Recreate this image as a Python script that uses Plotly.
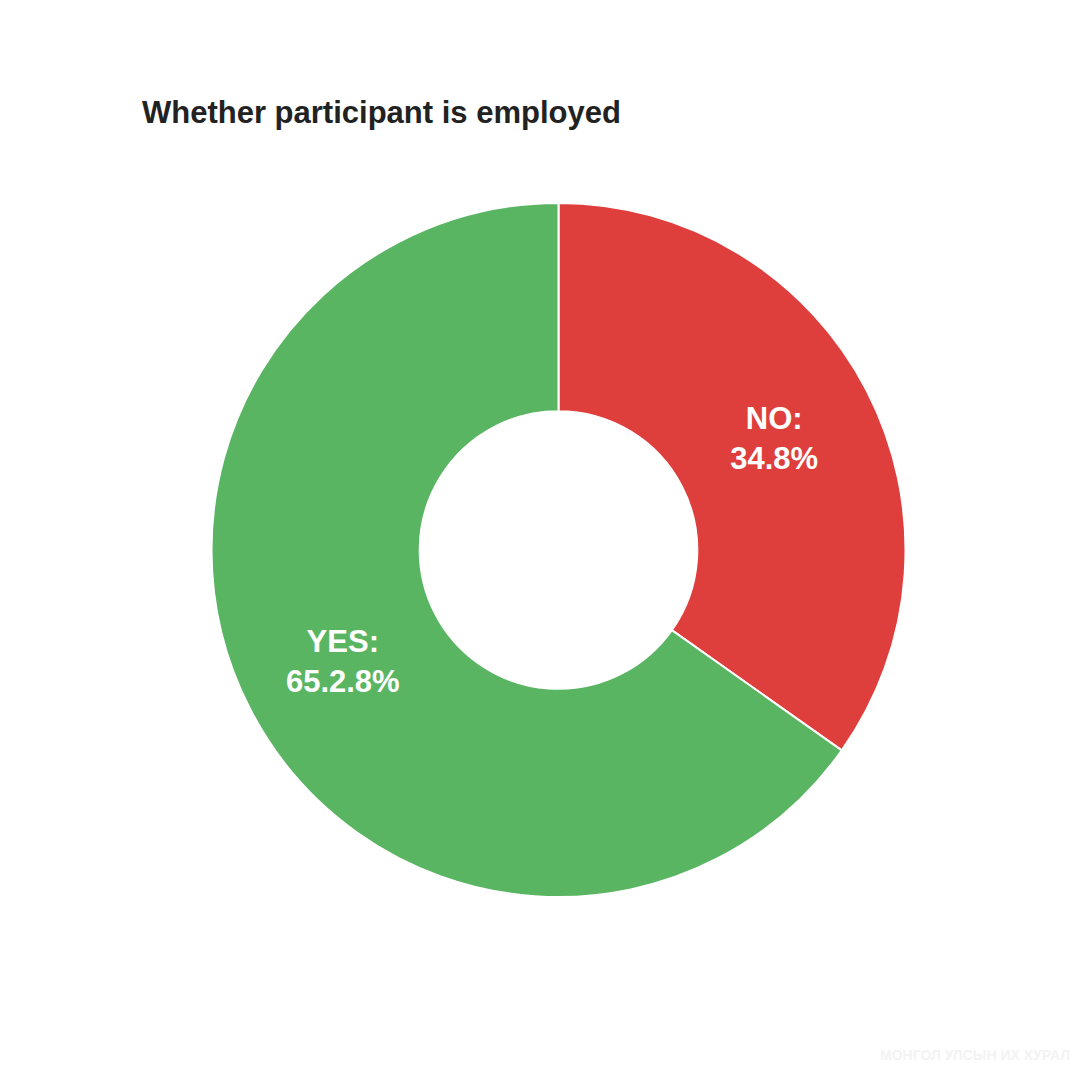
import plotly.graph_objects as go

categories = ["NO", "YES"]
values = [34.8, 65.2]
label_texts = ["NO:<br>34.8%", "YES:<br>65.2.8%"]
colors = ["#de3e3c", "#5ab562"]

W, H = 1090, 1077
OFF = 8  # page body margin
cx, cy, R = 558.5 - OFF, 550 - OFF, 347

fig = go.Figure(go.Pie(
    labels=categories,
    values=values,
    text=label_texts,
    texttemplate="%{text}",
    textposition="inside",
    insidetextorientation="horizontal",
    textfont=dict(family="Liberation Sans, Arial, sans-serif", size=31, color="white", weight="bold"),
    marker=dict(colors=colors, line=dict(color="white", width=2)),
    hole=0.40,
    sort=False,
    direction="clockwise",
    rotation=0,
    hoverinfo="none",
    showlegend=False,
    domain=dict(x=[(cx - R) / W, (cx + R) / W], y=[(H - cy - R) / H, (H - cy + R) / H]),
))

fig.update_layout(
    width=W, height=H,
    margin=dict(l=0, r=0, t=0, b=0),
    paper_bgcolor="white",
    plot_bgcolor="white",
    annotations=[
        dict(text="<b>Whether participant is employed</b>", x=(140 - OFF) / W, y=(H - 113 + OFF) / H,
             xref="paper", yref="paper", xanchor="left", yanchor="middle", showarrow=False,
             font=dict(family="Liberation Sans, Arial, sans-serif", size=31, color="#222222")),
        dict(text="<b>МОНГОЛ УЛСЫН ИХ ХУРАЛ</b>", x=(1072 - OFF) / W, y=(H - 1055 + OFF) / H,
             xref="paper", yref="paper", xanchor="right", yanchor="middle", showarrow=False,
             font=dict(family="Liberation Sans, Arial, sans-serif", size=14, color="#f3f3f3")),
    ],
)

fig.write_html("out.html")
